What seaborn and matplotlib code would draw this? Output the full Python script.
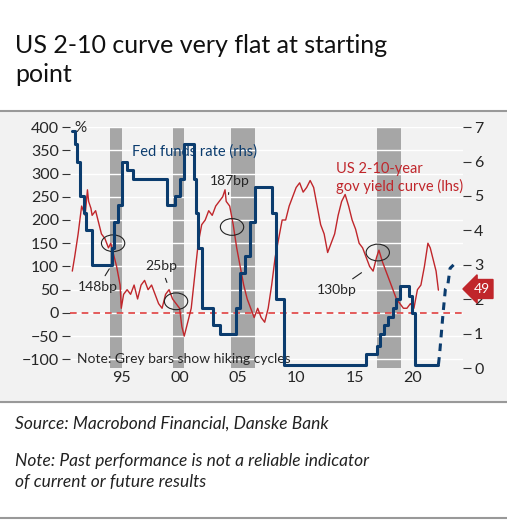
import matplotlib
matplotlib.use("Agg")
import matplotlib.pyplot as plt
import seaborn as sns
import pandas as pd
from matplotlib.patches import Ellipse

sns.set_style("white")
plt.rcParams['font.family'] = ['Lato', 'DejaVu Sans']

# US 2-10 curve (bp, lhs)
curve_t = [1990.8, 1991.0, 1991.3, 1991.6, 1991.9, 1992.1, 1992.2, 1992.4, 1992.5, 1992.8, 1993.0, 1993.3,
           1993.6, 1993.9, 1994.1, 1994.3, 1994.6, 1994.9, 1995.0, 1995.2, 1995.5, 1995.8, 1996.1,
           1996.4, 1996.7, 1997.0, 1997.3, 1997.6, 1997.9, 1998.2, 1998.5, 1998.8, 1999.1, 1999.4,
           1999.7, 2000.0, 2000.2, 2000.4, 2000.7, 2001.0, 2001.3, 2001.6, 2001.9, 2002.2, 2002.5,
           2002.8, 2003.1, 2003.4, 2003.7, 2003.9, 2004.0, 2004.3, 2004.6, 2004.9, 2005.2, 2005.5, 2005.8,
           2006.1, 2006.4, 2006.7, 2007.0, 2007.3, 2007.6, 2007.9, 2008.2, 2008.5, 2008.8, 2009.1,
           2009.4, 2009.7, 2010.0, 2010.3, 2010.6, 2010.9, 2011.2, 2011.5, 2011.8, 2012.1, 2012.4,
           2012.7, 2013.0, 2013.3, 2013.6, 2013.9, 2014.2, 2014.5, 2014.8, 2015.1, 2015.4, 2015.7,
           2016.0, 2016.3, 2016.6, 2016.9, 2017.1, 2017.4, 2017.7, 2018.0, 2018.3, 2018.6, 2018.9,
           2019.2, 2019.5, 2019.8, 2020.1, 2020.4, 2020.7, 2021.0, 2021.3, 2021.5, 2021.8, 2022.0, 2022.2]
curve_bp = [90, 120, 170, 230, 210, 265, 240, 225, 210, 220, 200, 170,
            160, 140, 150, 130, 100, 60, 10, 40, 50, 40, 60,
            30, 60, 70, 50, 60, 40, 20, 10, 40, 50, 30,
            20, 10, -30, -50, -20, 10, 80, 150, 190, 200, 220,
            210, 230, 240, 250, 265, 240, 230, 190, 140, 100, 60, 30,
            10, -10, 10, -10, -20, 10, 60, 120, 160, 200, 200,
            230, 250, 270, 280, 260, 270, 285, 270, 230, 190, 170,
            130, 150, 170, 210, 240, 255, 230, 200, 180, 150, 140,
            120, 100, 90, 120, 135, 110, 90, 70, 50, 30, 20,
            10, 10, 20, 10, 50, 60, 100, 150, 140, 110, 90, 49]

# Fed funds rate (%, rhs), step points
ff_t = [1990.8, 1991.0, 1991.2, 1991.5, 1991.8, 1992.0, 1992.5, 1994.0, 1994.2, 1994.4, 1994.7, 1995.1,
        1995.5, 1996.0, 1997.2, 1998.7, 1998.9, 1999.4, 1999.6, 2000.0, 2000.4, 2001.0, 2001.2,
        2001.4, 2001.6, 2001.9, 2002.9, 2003.5, 2004.5, 2004.8, 2005.2, 2005.6, 2006.0, 2006.5,
        2007.6, 2007.9, 2008.3, 2008.95, 2015.9, 2016.0, 2016.9, 2017.2, 2017.5, 2017.9, 2018.3,
        2018.6, 2018.9, 2019.5, 2019.7, 2019.9, 2020.2, 2022.2]
ff_rate = [6.9, 6.5, 6.0, 5.0, 4.5, 4.0, 3.0, 3.0, 3.5, 4.25, 4.75, 6.0,
           5.75, 5.5, 5.5, 5.5, 4.75, 4.75, 5.0, 5.5, 6.5, 6.5, 5.5,
           4.5, 3.5, 1.75, 1.25, 1.0, 1.0, 1.75, 2.75, 3.25, 4.25, 5.25,
           5.25, 4.5, 2.0, 0.1, 0.1, 0.4, 0.65, 1.0, 1.25, 1.5, 1.75,
           2.0, 2.4, 2.4, 2.1, 1.6, 0.1, 0.1]
proj_t = [2022.2, 2022.3, 2022.45, 2022.6, 2022.8, 2023.0, 2023.2, 2023.5]
proj_rate = [0.1, 0.4, 1.0, 1.6, 2.3, 2.4, 2.9, 3.0]

hike_cycles = [(1994.0, 1995.1), (1999.45, 2000.4), (2004.45, 2006.5), (2016.9, 2019.0)]

circles = [(1994.3, 150, "148bp", (1993.0, 55), (1994.1, 100)),
           (1999.7, 25, "25bp", (1998.4, 100), (1999.0, 60)),
           (2004.5, 185, "187bp", (2004.3, 285), (2004.2, 255)),
           (2017.0, 130, "130bp", (2013.5, 50), (2015.8, 90))]

red = "#c0262b"
navy = "#0b3c6e"

fig = plt.figure(figsize=(5.07, 5.23), dpi=100)
fig.text(0.03, 0.885, "US 2-10 curve very flat at starting\npoint", fontsize=18,
         va="center", color="#111", linespacing=1.35)
fig.patches.append(plt.Rectangle((0, 0.232), 1, 0.555, transform=fig.transFigure,
                                 color="#f2f2f2", zorder=-10))
ax = fig.add_axes([0.138, 0.296, 0.775, 0.461])
ax.set_facecolor("#f2f2f2")
for a, b in hike_cycles:
    ax.axvspan(a, b, color="#a6a6a6", lw=0, zorder=0)
df = pd.DataFrame({"t": curve_t, "bp": curve_bp})
sns.lineplot(data=df, x="t", y="bp", ax=ax, color=red, lw=1, zorder=3)
ax.axhline(0, color="#e04040", ls=(0, (4, 3)), lw=1.2, zorder=2)
ax.set_xlim(1990.6, 2024.3)
ax.set_ylim(-119, 400)
ax.set_yticks(range(-100, 401, 50))
ax.set_xticks([1995, 2000, 2005, 2010, 2015, 2020])
ax.set_xticklabels(["95", "00", "05", "10", "15", "20"])
ax.grid(axis="y", color="white", lw=1)
ax.set_axisbelow(True)
for x, y, lab, tp, ap in circles:
    ax.add_patch(Ellipse((x, y), 2.0, 36, fill=False, color="#222", lw=0.8, zorder=5))
    ax.annotate(lab, xy=ap, xytext=tp, fontsize=10, ha="center", va="center",
                arrowprops=dict(arrowstyle="-", color="#222", lw=0.8))
ax.text(1991.0, 397, "%", fontsize=11, va="center")
ax.text(1991.2, -100, "Note: Grey bars show hiking cycles", fontsize=10, va="center")
ax.text(2013.4, 290, "US 2-10-year\ngov yield curve (lhs)", color=red, fontsize=10.5, ha="left",
        va="center")

ax2 = ax.twinx()
ffdf = pd.DataFrame({"t": ff_t, "r": ff_rate})
ax2.step(ffdf["t"], ffdf["r"], where="post", color=navy, lw=2.2, zorder=4)
sns.lineplot(x=proj_t, y=proj_rate, ax=ax2, color=navy, lw=2.2, ls=(0, (2.5, 2)))
ax2.set_ylim(0, 7)
ax2.text(2001.3, 6.3, "Fed funds rate (rhs)", color=navy, fontsize=10.5, ha="center", va="center")
ax2.annotate("49", xy=(2024.3, 2.3), xycoords="data", xytext=(2025.2, 2.3),
             color="white", fontsize=10, ha="left", va="center", annotation_clip=False,
             bbox=dict(boxstyle="larrow,pad=0.25", fc=red, ec=red))

for a in (ax, ax2):
    for s in a.spines.values():
        s.set_visible(False)
    a.tick_params(length=6, width=0.8, color="#333", labelsize=11.5, pad=2)
    a.set_xlabel("")
    a.set_ylabel("")
ax.tick_params(axis="x", length=0)

fig.add_artist(plt.Line2D([0, 1], [0.787, 0.787], color="#999", lw=1.5))
fig.add_artist(plt.Line2D([0, 1], [0.232, 0.232], color="#999", lw=1.5))
fig.text(0.03, 0.19, "Source: Macrobond Financial, Danske Bank", fontsize=12.5, style="italic",
         va="center", color="#222")
fig.text(0.03, 0.098, "Note: Past performance is not a reliable indicator\nof current or future results",
         fontsize=12.5, style="italic", va="center", color="#222", linespacing=1.4)
fig.add_artist(plt.Line2D([0, 1], [0.01, 0.01], color="#999", lw=1.5))
fig.savefig("out.png", dpi=100)
